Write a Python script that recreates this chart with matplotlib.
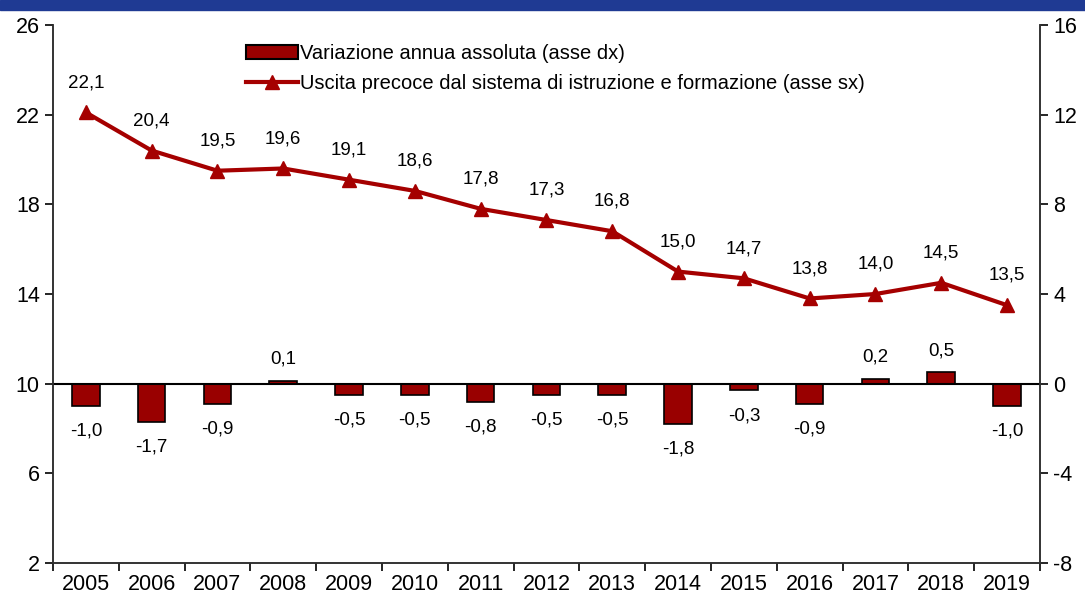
import numpy as np
import matplotlib.pyplot as plt
import matplotlib.patches as mpatches

years = ['2005', '2006', '2007', '2008', '2009', '2010', '2011', '2012',
         '2013', '2014', '2015', '2016', '2017', '2018', '2019']
uscita = [22.1, 20.4, 19.5, 19.6, 19.1, 18.6, 17.8, 17.3, 16.8, 15.0, 14.7, 13.8, 14.0, 14.5, 13.5]
variazione = [-1.0, -1.7, -0.9, 0.1, -0.5, -0.5, -0.8, -0.5, -0.5, -1.8, -0.3, -0.9, 0.2, 0.5, -1.0]

plt.rcParams['font.family'] = ['Liberation Sans', 'DejaVu Sans']
red = '#a50000'
bar_red = '#990000'

def fmt(v):
    return ('%.1f' % v).replace('.', ',')

fig = plt.figure(figsize=(10.85, 5.96), dpi=100)
# blue banner at the top
fig.patches.append(mpatches.Rectangle((0, 0.983), 1, 0.017, transform=fig.transFigure,
                                      color='#1f3a93', zorder=0))

ax = fig.add_axes([0.0488, 0.0554, 0.9097, 0.9026])
ax2 = ax.twinx()
x = np.arange(len(years))

# bars on the right axis
ax2.bar(x, variazione, width=0.42, color=bar_red, edgecolor='black', linewidth=1.2, zorder=2)
ax2.axhline(0, color='black', linewidth=1.5, zorder=3)
for xi, v in zip(x, variazione):
    if v >= 0:
        ax2.text(xi, v + 0.6, fmt(v), ha='center', va='bottom', fontsize=13.5)
    else:
        ax2.text(xi, v - 0.75, fmt(v), ha='center', va='top', fontsize=13.5)
ax2.set_ylim(-8, 16)
ax2.set_yticks([-8, -4, 0, 4, 8, 12, 16])
ax2.set_yticklabels(['-8', '-4', '0', '4', '8', '12', '16'])

# line on the left axis, drawn above the bars
ax.set_zorder(ax2.get_zorder() + 1)
ax.patch.set_visible(False)
ax.plot(x, uscita, color=red, linewidth=3, marker='^', markersize=10, zorder=4)
for xi, v in zip(x, uscita):
    ax.text(xi, v + 0.95, fmt(v), ha='center', va='bottom', fontsize=13.5)
ax.set_ylim(2, 26)
ax.set_yticks([2, 6, 10, 14, 18, 22, 26])
ax.set_xlim(-0.5, len(years) - 0.5)
ax.set_xticks(x)
ax.set_xticklabels(years)
ax.set_xticks(np.arange(-0.5, len(years)), minor=True)
ax.tick_params(axis='x', which='major', length=0, labelsize=15.5, pad=8)
ax.tick_params(axis='x', which='minor', length=6, width=1.2)
ax.tick_params(axis='y', labelsize=15.5, length=6, width=1.2)
ax2.tick_params(axis='y', labelsize=15.5, length=6, width=1.2)

for a in (ax, ax2):
    a.spines['top'].set_visible(False)
    for s in ('left', 'right', 'bottom'):
        a.spines[s].set_color('#333333')
        a.spines[s].set_linewidth(1.2)

h_bar = mpatches.Patch(facecolor=bar_red, edgecolor='black', linewidth=1.5,
                       label='Variazione annua assoluta (asse dx)')
h_line, = ax.plot([], [], color=red, linewidth=3, marker='^', markersize=10,
                  label='Uscita precoce dal sistema di istruzione e formazione (asse sx)')
ax.legend(handles=[h_bar, h_line], loc='upper left', bbox_to_anchor=(0.187, 0.98),
          frameon=False, fontsize=14.5, handlelength=2.6, handletextpad=0.1,
          labelspacing=0.55, borderaxespad=0)

fig.savefig('out.png', dpi=100)
